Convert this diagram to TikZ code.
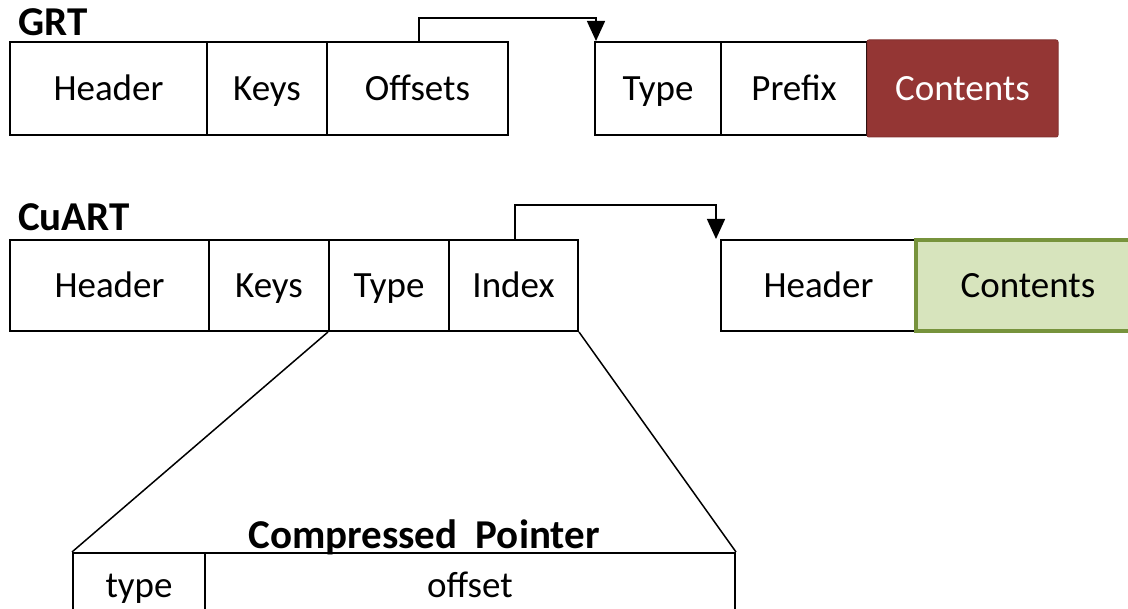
\documentclass[tikz,border=0pt]{standalone}
\usepackage{fontspec}
\setmainfont{Carlito}
\usetikzlibrary{arrows.meta}
\definecolor{cellred}{HTML}{943634}
\definecolor{cellgreen}{HTML}{D7E4BD}
\definecolor{edgegreen}{HTML}{77933C}
\tikzset{
  cell/.style={draw, line width=2pt, inner sep=0pt, minimum height=#1,
    text height=25pt, text depth=0pt,
    font=\fontsize{37}{44}\selectfont},
  cell/.default=93pt,
  title/.style={font=\fontsize{41}{48}\selectfont\bfseries, anchor=base west, inner sep=0pt},
  link/.style={line width=1.5pt, -{Triangle[length=20pt,width=18pt]}},
  fan/.style={line width=1.5pt}
}
\begin{document}
\begin{tikzpicture}[x=1pt,y=-1pt]
\useasboundingbox (0,0) rectangle (1128,609);
\clip (0,0) rectangle (1128,609);

% GRT node layout
\node[title] (grt) at (18,36) {GRT};
\node[cell, minimum width=197pt] (gh) at (108.5,88.5) {Header};
\node[cell, minimum width=120pt] (gk) at (267,88.5) {Keys};
\node[cell, minimum width=181pt] (go) at (417.5,88.5) {Offsets};
\node[cell, minimum width=126pt] (gt) at (658,88.5) {Type};
\node[cell, minimum width=146pt] (gp) at (794,88.5) {Prefix};
\node[cell=97pt, minimum width=191pt, fill=cellred, draw=cellred!90!black,
      line width=1pt, rounded corners=2pt, text=white] (gc) at (962.5,88.5) {Contents};

\draw[link] ([xshift=1.5pt]go.north) |- ([xshift=2pt,yshift=23pt]gt.north west)
  -- ([xshift=2pt]gt.north west);

% CuART node layout
\node[title] (cuart) at (18,231) {CuART};
\node[cell=91pt, minimum width=199pt] (ch) at (109.5,285.5) {Header};
\node[cell=91pt, minimum width=120pt] (ck) at (269,285.5) {Keys};
\node[cell=91pt, minimum width=120pt] (ct) at (389,285.5) {Type};
\node[cell=91pt, minimum width=129pt] (ci) at (513.5,285.5) {Index};
\node[cell=91pt, minimum width=195pt] (dh) at (818.5,285.5) {Header};
\node[cell=91pt, minimum width=224pt, fill=cellgreen, draw=edgegreen,
      line width=4pt] (dc) at (1028,285.5) {Contents};

\draw[link] ([xshift=1.5pt]ci.north) |- ([xshift=-4pt,yshift=34pt]dh.north west)
  -- ([xshift=-4pt]dh.north west);

% Compressed pointer layout
\node[font=\fontsize{41}{47}\selectfont\bfseries, anchor=base, inner sep=0pt]
  (cp) at (424,548) {Compressed\;\,Pointer};
\node[cell=64pt, minimum width=132pt] (ptype) at (139,585) {type};
\node[cell=64pt, minimum width=530pt] (poff) at (470,585) {offset};

\draw[fan] (ct.south west) -- (ptype.north west);
\draw[fan] (ci.south east) -- (poff.north east);
\end{tikzpicture}
\end{document}
